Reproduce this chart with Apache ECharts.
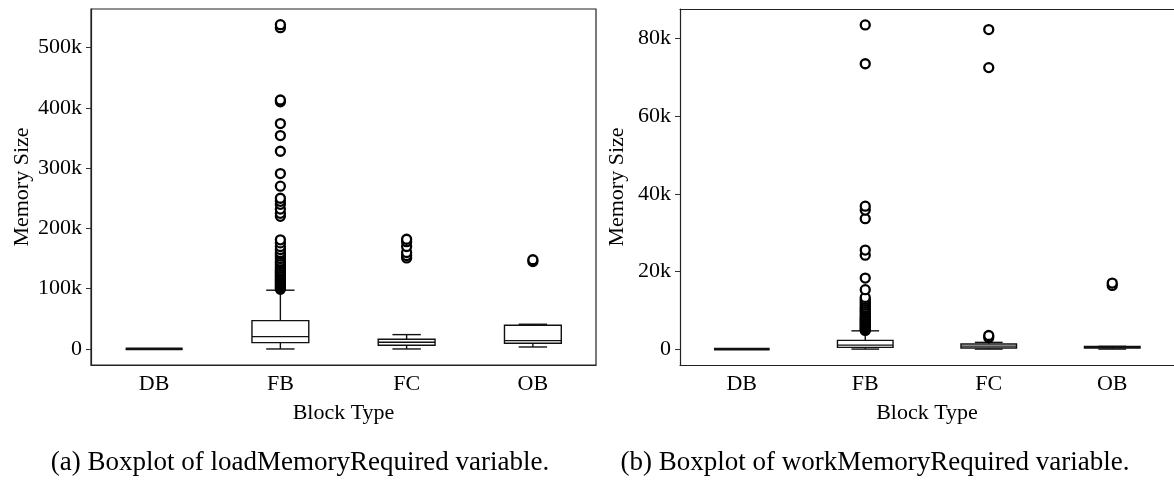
<!DOCTYPE html>
<html>
<head>
<meta charset="utf-8">
<script src="https://cdn.jsdelivr.net/npm/echarts@6/dist/echarts.min.js"></script>
<style>
  html, body { margin: 0; padding: 0; background: #fff; }
  #chart { width: 1174px; height: 483px; }
</style>
</head>
<body>
<div id="chart"></div>
<script>
// Block types on the x axis of both panels
const categories = ['DB', 'FB', 'FC', 'OB'];

// Five-number summaries per block type: [lower whisker, Q1, median, Q3, upper whisker]
const loadBoxes = [
  [0, 0, 0, 0, 0],
  [0, 10500, 20400, 47000, 97500],
  [0, 6100, 11100, 16100, 23800],
  [3300, 9400, 13800, 39300, 41000]
];
const workBoxes = [
  [0, 0, 0, 0, 0],
  [0, 440, 1030, 2240, 4700],
  [0, 260, 770, 1290, 1730],
  [0, 260, 480, 700, 700]
];

// Outliers of loadMemoryRequired
const loadOutFB = [
  99000, 101000, 103000, 105000, 107000, 109000, 111000, 113000, 115000, 117000,
  119000, 121000, 123000, 125000, 127000, 129000, 131000, 134000, 137000, 140000,
  143000, 146000, 150000, 154000, 157000, 160000, 165000, 170000, 176000, 181000,
  220000, 225000, 232000, 240000, 245000, 250000, 270000, 291000, 328000, 354000,
  374000, 410000, 413000, 533000, 538000
];
const loadOutFC = [151000, 155000, 160000, 170000, 178000, 182000];
const loadOutOB = [145000, 148000];

// Outliers of workMemoryRequired
const workOutFB = [
  4800, 5000, 5300, 5600, 5900, 6200, 6500, 6800, 7100, 7400,
  7700, 8000, 8400, 8800, 9200, 9600, 10000, 10400, 10800, 11300,
  11800, 12300, 12800, 13300, 15300, 18300, 24200, 25500, 33600, 35800,
  36800, 73500, 83500
];
const workOutFC = [3000, 3500, 72500, 82300];
const workOutOB = [16400, 17000];

// Tick values of the two y axes
const loadTicks = [0, 100000, 200000, 300000, 400000, 500000];
const workTicks = [0, 20000, 40000, 60000, 80000];

const FONT = '"Liberation Serif", "DejaVu Serif", serif';
const INK = '#111';
const FRAME = { color: '#222', width: 1.2 };

function kFormat(v) { return v === 0 ? '0' : (v / 1000) + 'k'; }

// Matplotlib-style box: box from Q1 to Q3, median line, whiskers with half-width caps
function renderBox(params, api) {
  const idx = api.value(0);
  const pLo = api.coord([idx, api.value(1)]);
  const pQ1 = api.coord([idx, api.value(2)]);
  const pMed = api.coord([idx, api.value(3)]);
  const pQ3 = api.coord([idx, api.value(4)]);
  const pHi = api.coord([idx, api.value(5)]);
  const band = api.size([1, 0])[0];
  const cx = pMed[0];
  const bw = band * 0.45;
  const cw = bw / 2;
  const line = { stroke: INK, lineWidth: 1.4 };
  // a box collapsed to a single value reads as a heavier stroke
  const flat = Math.abs(pLo[1] - pHi[1]) < 1;
  return {
    type: 'group',
    children: [
      { type: 'line', shape: { x1: cx, y1: pQ3[1], x2: cx, y2: pHi[1] }, style: line },
      { type: 'line', shape: { x1: cx, y1: pQ1[1], x2: cx, y2: pLo[1] }, style: line },
      { type: 'line', shape: { x1: cx - cw / 2, y1: pHi[1], x2: cx + cw / 2, y2: pHi[1] }, style: line },
      { type: 'line', shape: { x1: cx - cw / 2, y1: pLo[1], x2: cx + cw / 2, y2: pLo[1] }, style: line },
      { type: 'rect', shape: { x: cx - bw / 2, y: pQ3[1], width: bw, height: pQ1[1] - pQ3[1] },
        style: { fill: '#fff', stroke: INK, lineWidth: 1.4 } },
      { type: 'line', shape: { x1: cx - bw / 2, y1: pMed[1], x2: cx + bw / 2, y2: pMed[1] },
        style: { stroke: INK, lineWidth: flat ? 2.8 : 1.4 } }
    ]
  };
}

function boxData(boxes) {
  return boxes.map((b, i) => [i].concat(b));
}
function outlierData(cat, values) {
  return values.map(v => [cat, v]);
}

function xAxisFor(gridIndex) {
  return {
    type: 'category', gridIndex, data: categories, boundaryGap: true, position: 'bottom',
    name: 'Block Type', nameLocation: 'middle', nameGap: 37,
    nameTextStyle: { fontFamily: FONT, fontSize: 22, color: '#000' },
    axisLine: { show: true, onZero: false, lineStyle: FRAME },
    axisTick: { alignWithLabel: true, length: 5, lineStyle: { color: '#333', width: 1 } },
    axisLabel: { fontFamily: FONT, fontSize: 22, color: '#000', margin: 8 },
    splitLine: { show: false }
  };
}
// bare top edge of a panel frame
function topEdgeFor(gridIndex) {
  return {
    type: 'category', gridIndex, data: categories, position: 'top',
    axisLine: { show: true, onZero: false, lineStyle: FRAME },
    axisTick: { show: false }, axisLabel: { show: false }, splitLine: { show: false }
  };
}
function yAxisFor(gridIndex, min, max, ticks, gap) {
  return {
    type: 'value', gridIndex, min, max, position: 'left',
    name: 'Memory Size', nameLocation: 'middle', nameGap: gap,
    nameTextStyle: { fontFamily: FONT, fontSize: 22, color: '#000' },
    axisLine: { show: true, onZero: false, lineStyle: FRAME },
    axisTick: { show: true, length: 5, customValues: ticks, lineStyle: { color: '#333', width: 1 } },
    axisLabel: { fontFamily: FONT, fontSize: 22, color: '#000', margin: 9,
                 customValues: ticks, formatter: kFormat },
    splitLine: { show: false }
  };
}

const outlierStyle = {
  symbol: 'circle', symbolSize: 9,
  itemStyle: { color: '#fff', borderColor: '#000', borderWidth: 2.3, opacity: 1 }
};

const chart = echarts.init(document.getElementById('chart'), null, { renderer: 'canvas' });
chart.setOption({
  animation: false,
  backgroundColor: '#fff',
  grid: [
    { left: 91, top: 9, width: 505, height: 356, show: true, borderColor: '#222', borderWidth: 1.2, backgroundColor: 'transparent' },
    // the right panel runs past the page edge: only its left, top and bottom edges are drawn
    { left: 680, top: 9, width: 504, height: 356, show: false }
  ],
  xAxis: [xAxisFor(0), xAxisFor(1), topEdgeFor(1)],
  yAxis: [
    yAxisFor(0, -26600, 564000, loadTicks, 58),
    yAxisFor(1, -4100, 87600, workTicks, 52)
  ],
  series: [
    { type: 'custom', xAxisIndex: 0, yAxisIndex: 0, renderItem: renderBox,
      encode: { x: 0, y: [1, 2, 3, 4, 5] }, data: boxData(loadBoxes), z: 2 },
    Object.assign({ type: 'scatter', xAxisIndex: 0, yAxisIndex: 0, z: 3,
      data: outlierData('FB', loadOutFB).concat(outlierData('FC', loadOutFC), outlierData('OB', loadOutOB)) }, outlierStyle),
    { type: 'custom', xAxisIndex: 1, yAxisIndex: 1, renderItem: renderBox,
      encode: { x: 0, y: [1, 2, 3, 4, 5] }, data: boxData(workBoxes), z: 2 },
    Object.assign({ type: 'scatter', xAxisIndex: 1, yAxisIndex: 1, z: 3,
      data: outlierData('FB', workOutFB).concat(outlierData('FC', workOutFC), outlierData('OB', workOutOB)) }, outlierStyle)
  ],
  graphic: [
    { type: 'text', x: 300, y: 463,
      style: { text: '(a) Boxplot of loadMemoryRequired variable.', font: '27px ' + FONT, fill: '#000',
               align: 'center', verticalAlign: 'middle' } },
    { type: 'text', x: 875, y: 463,
      style: { text: '(b) Boxplot of workMemoryRequired variable.', font: '27px ' + FONT, fill: '#000',
               align: 'center', verticalAlign: 'middle' } }
  ]
});
</script>
</body>
</html>
